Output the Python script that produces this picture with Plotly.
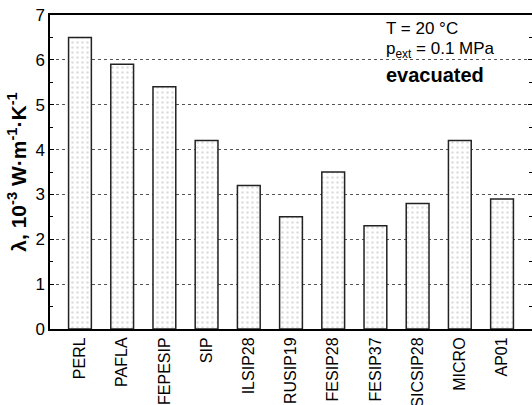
import plotly.graph_objects as go

categories = ["PERL", "PAFLA", "FEPESIP", "SIP", "ILSIP28", "RUSIP19",
              "FESIP28", "FESIP37", "SICSIP28", "MICRO", "AP01"]
values = [6.5, 5.9, 5.4, 4.2, 3.2, 2.5, 3.5, 2.3, 2.8, 4.2, 2.9]
y_ticks = [0, 1, 2, 3, 4, 5, 6, 7]

FONT = "Liberation Sans, Arial, sans-serif"

fig = go.Figure()
fig.add_trace(go.Bar(
    x=list(range(len(categories))), y=values, width=0.54,
    marker=dict(color="white",
                line=dict(color="#222222", width=1.5),
                pattern=dict(shape=".", fgcolor="#bbbbbb", bgcolor="white",
                             size=5, solidity=0.2)),
    showlegend=False,
))
# invisible trace to carry the right-hand tick axis
fig.add_trace(go.Scatter(x=[0], y=[0], yaxis="y2", mode="markers",
                         marker=dict(opacity=0), showlegend=False, hoverinfo="skip"))

fig.update_layout(
    width=532, height=405,
    margin=dict(l=50, r=0, t=15, b=76),
    paper_bgcolor="white", plot_bgcolor="white",
    font=dict(family=FONT, size=17, color="black"),
    xaxis=dict(range=[-0.71, 10.71], tickmode="array", automargin=False,
               tickvals=list(range(len(categories))), ticktext=categories,
               tickangle=-90, ticks="", showgrid=False, zeroline=False,
               showline=True, linecolor="black", linewidth=2, mirror=True,
               tickfont=dict(size=16)),
    yaxis=dict(range=[0, 7], tickvals=y_ticks, ticks="inside", ticklen=4,
               automargin=False,
               tickcolor="black", showline=True, linecolor="black", linewidth=1.5,
               showgrid=True, gridcolor="#555555", griddash="dot", gridwidth=1,
               zeroline=False, tickfont=dict(size=17),
               minor=dict(dtick=0.5, ticks="inside", ticklen=3, tickcolor="black",
                          showgrid=False),
               title=dict(text="<b>λ, 10<sup>-3</sup> W·m<sup>-1</sup>·K<sup>-1</sup></b>",
                          font=dict(size=21), standoff=3)),
    yaxis2=dict(range=[0, 7], overlaying="y", side="right", tickvals=y_ticks,
                automargin=False,
                ticks="inside", ticklen=4, tickcolor="black", showticklabels=False,
                showline=False, showgrid=False, zeroline=False,
                minor=dict(dtick=0.5, ticks="inside", ticklen=3, tickcolor="black")),
    annotations=[
        dict(xref="paper", yref="paper", x=0.693, y=0.958, xanchor="left",
             yanchor="middle", showarrow=False, text="T = 20 °C",
             font=dict(size=17)),
        dict(xref="paper", yref="paper", x=0.693, y=0.888, xanchor="left",
             yanchor="middle", showarrow=False, text="p<sub>ext</sub> = 0.1 MPa",
             font=dict(size=17)),
        dict(xref="paper", yref="paper", x=0.693, y=0.810, xanchor="left",
             yanchor="middle", showarrow=False, text="<b>evacuated</b>",
             font=dict(size=20)),
    ],
)

fig.write_html("out.html")
